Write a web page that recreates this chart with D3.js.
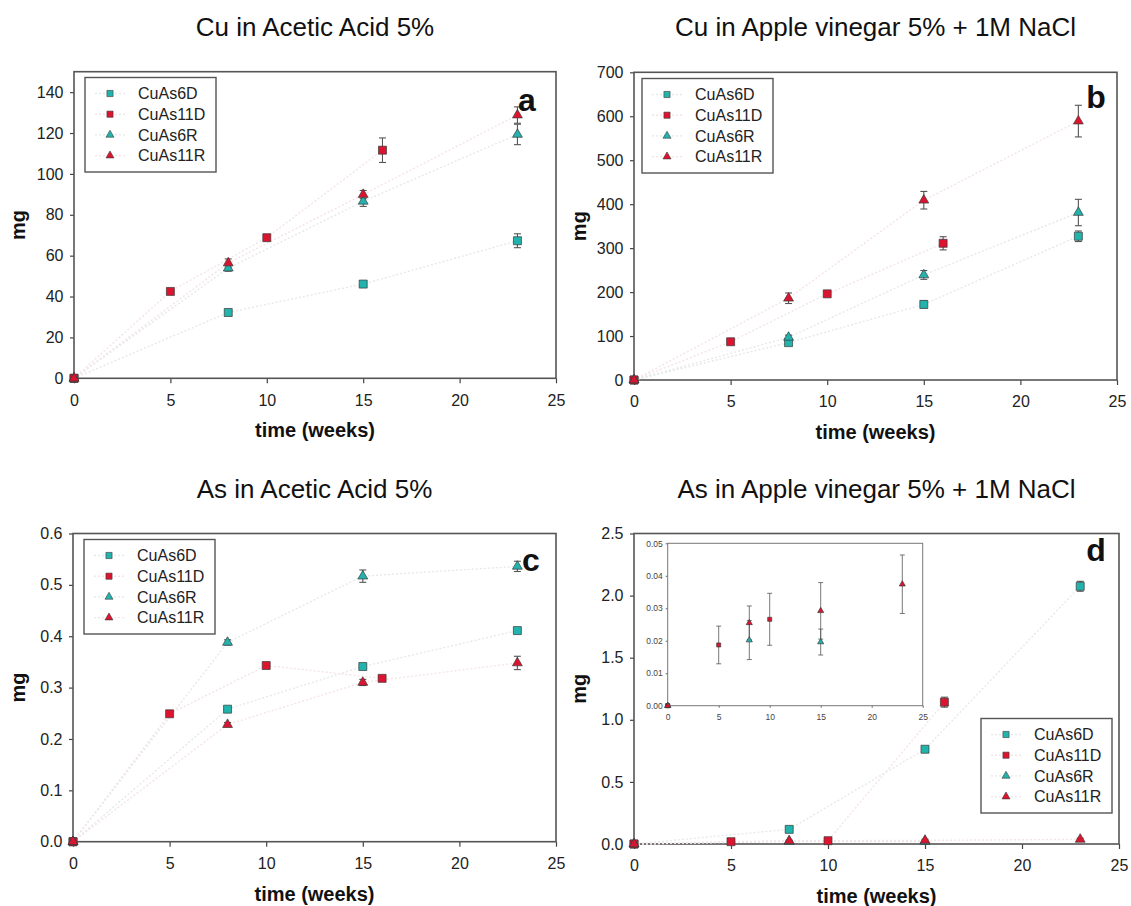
<!DOCTYPE html>
<html><head><meta charset="utf-8">
<script src="https://cdn.jsdelivr.net/npm/d3@7"></script>
<style>
body{margin:0;background:#fff}
svg{display:block}
text{font-family:"Liberation Sans",Arial,Helvetica,sans-serif}
</style>
</head><body>
<svg id="chart" width="1131" height="906"></svg>
<script>
// ---------------- DATA ----------------
const seriesNames = ["CuAs6D", "CuAs11D", "CuAs6R", "CuAs11R"];
const xTicks = [0, 5, 10, 15, 20, 25];

const weeks6D  = [0, 8, 15, 23];
const weeks11D = [0, 5, 10, 16];
const weeks6R  = [0, 8, 15, 23];
const weeks11R = [0, 8, 15, 23];
const weeks6R_d = [0, 8, 15];

// (a) Cu in Acetic Acid 5%
const yTicksA = [0, 20, 40, 60, 80, 100, 120, 140];
const a6D   = [0, 32.2, 46.1, 67.3];   const a6DErr  = [0, 1.0, 1.2, 3.4];
const a11D  = [0, 42.5, 68.8, 111.6];  const a11DErr = [0, 1.0, 1.5, 6.0];
const a6R   = [0, 53.9, 86.6, 119.3];  const a6RErr  = [0, 1.5, 2.5, 5.0];
const a11R  = [0, 56.4, 89.9, 128.8];  const a11RErr = [0, 2.0, 2.0, 4.0];

// (b) Cu in Apple vinegar 5% + 1M NaCl
const yTicksB = [0, 100, 200, 300, 400, 500, 600, 700];
const b6D   = [0, 85, 172, 327];       const b6DErr  = [0, 5, 8, 12];
const b11D  = [0, 87, 196, 311];       const b11DErr = [0, 3, 6, 15];
const b6R   = [0, 97, 239, 381];       const b6RErr  = [0, 5, 10, 30];
const b11R  = [0, 186, 409, 589];      const b11RErr = [0, 12, 20, 36];

// (c) As in Acetic Acid 5%
const yTicksC = [0, 0.1, 0.2, 0.3, 0.4, 0.5, 0.6];
const c6D   = [0, 0.258, 0.341, 0.411]; const c6DErr  = [0, 0.004, 0.005, 0.005];
const c11D  = [0, 0.249, 0.343, 0.318]; const c11DErr = [0, 0.004, 0.005, 0.004];
const c6R   = [0, 0.388, 0.517, 0.536]; const c6RErr  = [0, 0.005, 0.012, 0.010];
const c11R  = [0, 0.228, 0.310, 0.348]; const c11RErr = [0, 0.004, 0.006, 0.013];

// (d) As in Apple vinegar 5% + 1M NaCl
const yTicksD = [0, 0.5, 1.0, 1.5, 2.0, 2.5];
const d6D   = [0, 0.118, 0.763, 2.075];   const d6DErr  = [0, 0.01, 0.02, 0.04];
const d11D  = [0, 0.0187, 0.0266, 1.142]; const d11DErr = [0, 0.0058, 0.008, 0.04];
const d6R   = [0, 0.0202, 0.0196];        const d6RErr  = [0, 0.006, 0.004];
const d11R  = [0, 0.0255, 0.0292, 0.0374];const d11RErr = [0, 0.0052, 0.0087, 0.009];
const yTicksInset = [0, 0.01, 0.02, 0.03, 0.04, 0.05];

// ---------------- STYLE / LAYOUT ----------------
const TEAL = "#22b3ad", RED = "#dc1430";
const styles = [
  {fill: TEAL, shape: d3.symbolSquare},
  {fill: RED,  shape: d3.symbolSquare},
  {fill: TEAL, shape: d3.symbolTriangle},
  {fill: RED,  shape: d3.symbolTriangle}
];
const LINE_COLORS = ["#e6e9e9", "#f4e4e5", "#e6e9e9", "#f4e4e5"];

function mk(weeksArr, valsArr, errArr) {
  return weeksArr.map((w, i) => ({x: w, y: valsArr[i], e: errArr[i]}));
}

const panels = [
  {title: "Cu in Acetic Acid 5%", tag: "a", L: 74, R: 556, T: 71.7, B: 378.3, yMax: 150, yTicks: yTicksA, fmt: d3.format("d"),
   legend: [85, 77.5], tagPos: [527, 100], titleY: 27, mgX: 18,
   series: [mk(weeks6D, a6D, a6DErr), mk(weeks11D, a11D, a11DErr), mk(weeks6R, a6R, a6RErr), mk(weeks11R, a11R, a11RErr)]},
  {title: "Cu in Apple vinegar 5% + 1M NaCl", tag: "b", L: 634, R: 1117, T: 72.3, B: 380, yMax: 700, yTicks: yTicksB, fmt: d3.format("d"),
   legend: [642, 78.5], tagPos: [1096, 97], titleY: 27, mgX: 579,
   series: [mk(weeks6D, b6D, b6DErr), mk(weeks11D, b11D, b11DErr), mk(weeks6R, b6R, b6RErr), mk(weeks11R, b11R, b11RErr)]},
  {title: "As in Acetic Acid 5%", tag: "c", L: 73, R: 556, T: 533.5, B: 841.7, yMax: 0.6, yTicks: yTicksC, fmt: d3.format(".1f"),
   legend: [84, 539.5], tagPos: [531, 560], titleY: 489, mgX: 18,
   series: [mk(weeks6D, c6D, c6DErr), mk(weeks11D, c11D, c11DErr), mk(weeks6R, c6R, c6RErr), mk(weeks11R, c11R, c11RErr)]},
  {title: "As in Apple vinegar 5% + 1M NaCl", tag: "d", L: 634, R: 1119, T: 533.5, B: 844, yMax: 2.5, yTicks: yTicksD, fmt: d3.format(".1f"),
   legend: [981, 718.5], tagPos: [1096, 550], titleY: 489, mgX: 579,
   series: [mk(weeks6D, d6D, d6DErr), mk(weeks11D, d11D, d11DErr), mk(weeks6R_d, d6R, d6RErr), mk(weeks11R, d11R, d11RErr)],
   inset: {L: 667.7, R: 922.7, T: 543.3, B: 705.7, yMax: 0.05}}
];

const svg = d3.select("#chart");
svg.append("rect").attr("width", 1131).attr("height", 906).attr("fill", "#fff");

function drawSeries(g, x, y, series, opts) {
  const {sqSize, triSize, cap, lines, clipMax, ebWidth} = opts;
  if (lines) {
    series.forEach((s, i) => {
      const line = d3.line().x(d => x(d.x)).y(d => y(d.y));
      g.append("path").attr("d", line(s)).attr("fill", "none")
        .attr("stroke", LINE_COLORS[i]).attr("stroke-width", 1.4)
        .attr("stroke-dasharray", "2,2");
    });
  }
  series.forEach((s, i) => {
    const pts = clipMax != null ? s.filter(d => d.y <= clipMax) : s;
    pts.filter(d => d.e > 0).forEach(d => {
      const top = clipMax != null ? Math.min(d.y + d.e, clipMax) : d.y + d.e;
      const eg = g.append("g").attr("stroke", "#555").attr("stroke-width", ebWidth);
      eg.append("line").attr("x1", x(d.x)).attr("x2", x(d.x)).attr("y1", y(d.y - d.e)).attr("y2", y(top));
      eg.append("line").attr("x1", x(d.x) - cap).attr("x2", x(d.x) + cap).attr("y1", y(d.y - d.e)).attr("y2", y(d.y - d.e));
      eg.append("line").attr("x1", x(d.x) - cap).attr("x2", x(d.x) + cap).attr("y1", y(top)).attr("y2", y(top));
    });
  });
  series.forEach((s, i) => {
    const pts = clipMax != null ? s.filter(d => d.y <= clipMax) : s;
    const st = styles[i];
    g.selectAll(null).data(pts).join("path")
      .attr("d", d3.symbol(st.shape, st.shape === d3.symbolSquare ? sqSize : triSize))
      .attr("transform", d => `translate(${x(d.x)},${y(d.y)})`)
      .attr("fill", st.fill).attr("stroke", "#3a3a3a").attr("stroke-width", 0.7);
  });
}

panels.forEach(p => {
  const g = svg.append("g");
  const x = d3.scaleLinear().domain([0, 25]).range([p.L, p.R]);
  const y = d3.scaleLinear().domain([0, p.yMax]).range([p.B, p.T]);
  const cx = (p.L + p.R) / 2, cy = (p.T + p.B) / 2;

  // title
  g.append("text").attr("x", cx).attr("y", p.titleY + 9.3).attr("text-anchor", "middle")
    .attr("font-size", 26).attr("fill", "#111").text(p.title);

  // axes
  const xa = g.append("g").attr("transform", `translate(0,${p.B})`)
    .call(d3.axisBottom(x).tickValues(xTicks).tickSize(5).tickPadding(11));
  const ya = g.append("g").attr("transform", `translate(${p.L},0)`)
    .call(d3.axisLeft(y).tickValues(p.yTicks).tickFormat(p.fmt).tickSize(4).tickPadding(6.5));
  [xa, ya].forEach(a => {
    a.select(".domain").remove();
    a.selectAll(".tick line").attr("stroke", "#444").attr("stroke-width", 1.2);
    a.selectAll(".tick text").attr("font-size", 16).attr("fill", "#222")
      .style("font-family", '"Liberation Sans",Arial,sans-serif');
  });

  // frame
  g.append("rect").attr("x", p.L).attr("y", p.T).attr("width", p.R - p.L).attr("height", p.B - p.T)
    .attr("fill", "none").attr("stroke", "#555").attr("stroke-width", 1.6);

  // axis labels
  g.append("text").attr("x", cx).attr("y", p.B + 59).attr("text-anchor", "middle")
    .attr("font-size", 20).attr("font-weight", "bold").attr("fill", "#111").text("time (weeks)");
  g.append("text").attr("transform", `translate(${p.mgX + 7},${cy}) rotate(-90)`).attr("text-anchor", "middle")
    .attr("font-size", 20).attr("font-weight", "bold").attr("fill", "#111").text("mg");

  // data
  drawSeries(g, x, y, p.series, {sqSize: 64, triSize: 42, cap: 3.5, lines: true, clipMax: null, ebWidth: 1.1});

  // inset
  if (p.inset) {
    const q = p.inset;
    const ig = g.append("g");
    const ix = d3.scaleLinear().domain([0, 25]).range([q.L, q.R]);
    const iy = d3.scaleLinear().domain([0, q.yMax]).range([q.B, q.T]);
    const ixa = ig.append("g").attr("transform", `translate(0,${q.B})`)
      .call(d3.axisBottom(ix).tickValues(xTicks).tickSize(2).tickPadding(6));
    const iya = ig.append("g").attr("transform", `translate(${q.L},0)`)
      .call(d3.axisLeft(iy).tickValues(yTicksInset).tickFormat(d3.format(".2f")).tickSize(2).tickPadding(3));
    [ixa, iya].forEach(a => {
      a.select(".domain").remove();
      a.selectAll(".tick line").attr("stroke", "#666");
      a.selectAll(".tick text").attr("font-size", 8.5).attr("fill", "#444")
        .style("font-family", '"Liberation Sans",Arial,sans-serif');
    });
    ig.append("rect").attr("x", q.L).attr("y", q.T).attr("width", q.R - q.L).attr("height", q.B - q.T)
      .attr("fill", "none").attr("stroke", "#777").attr("stroke-width", 1);
    drawSeries(ig, ix, iy, p.series, {sqSize: 16, triSize: 16, cap: 2.5, lines: false, clipMax: q.yMax, ebWidth: 0.8});
  }

  // legend
  const [lx, ly] = p.legend;
  const lg = g.append("g");
  lg.append("rect").attr("x", lx).attr("y", ly).attr("width", 131).attr("height", 94.5)
    .attr("fill", "#fff").attr("stroke", "#555").attr("stroke-width", 1.4);
  seriesNames.forEach((name, i) => {
    const ry = ly + 16 + 20.7 * i;
    lg.append("line").attr("x1", lx + 10).attr("x2", lx + 42).attr("y1", ry).attr("y2", ry)
      .attr("stroke", LINE_COLORS[i]).attr("stroke-width", 1.4).attr("stroke-dasharray", "2,2");
    const st = styles[i];
    lg.append("path").attr("d", d3.symbol(st.shape, st.shape === d3.symbolSquare ? 38 : 28)())
      .attr("transform", `translate(${lx + 25},${ry})`)
      .attr("fill", st.fill).attr("stroke", "#3a3a3a").attr("stroke-width", 0.6);
    lg.append("text").attr("x", lx + 53).attr("y", ry + 5.8).attr("font-size", 16).attr("fill", "#222").text(name);
  });

  // panel tag
  g.append("text").attr("x", p.tagPos[0]).attr("y", p.tagPos[1]).attr("text-anchor", "middle")
    .attr("dominant-baseline", "central").attr("font-size", 32).attr("font-weight", "bold")
    .attr("fill", "#111").text(p.tag);
});
</script>
</body></html>
